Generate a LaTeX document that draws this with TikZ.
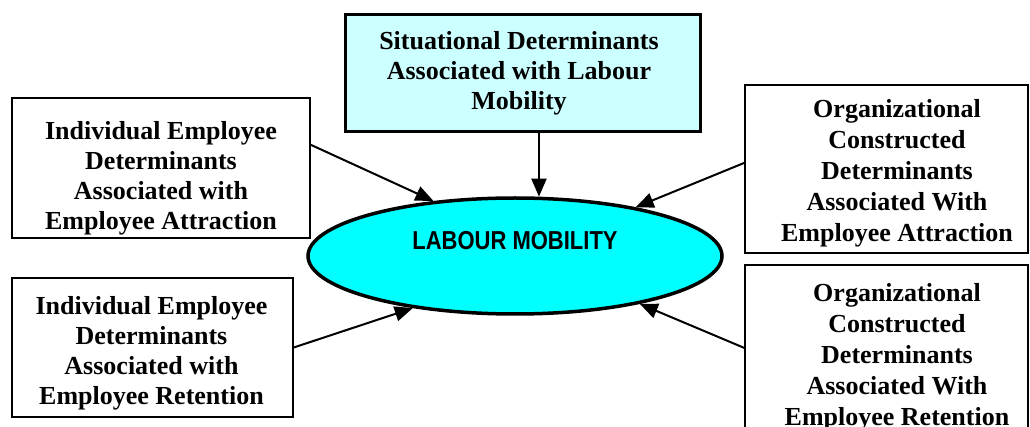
\documentclass[tikz,border=0pt]{standalone}
\usepackage{fontspec}
\setmainfont{Liberation Serif}
\newfontfamily\arialfont{Liberation Sans}
\usetikzlibrary{shapes.geometric,arrows.meta,calc}
\definecolor{lightcyan}{RGB}{204,255,255}
\definecolor{brightcyan}{RGB}{0,255,255}
\begin{document}
\begin{tikzpicture}[x=1pt,y=-1pt,
  box/.style={draw=black,line width=1.5pt,fill=white,inner sep=0pt},
  boxtext/.style={align=center,inner sep=0pt,font=\bfseries\fontsize{26}{30}\selectfont},
  boxtextwide/.style={align=center,inner sep=0pt,font=\bfseries\fontsize{26}{31}\selectfont},
  arr/.style={-{Triangle[length=18pt,width=15pt]},line width=2pt},
]
\useasboundingbox (0,0) rectangle (1030,427);
\fill[white] (0,0) rectangle (1030,427);

% boxes
\node[box, fill=lightcyan, line width=3pt, minimum width=355pt, minimum height=117pt] (sit) at (522.5,73.5) {};
\node[box, minimum width=298pt, minimum height=140pt] (indA) at (161,168) {};
\node[box, minimum width=281pt, minimum height=139pt] (indR) at (152.5,347.5) {};
\node[box, minimum width=283pt, minimum height=168pt] (orgA) at (886.5,169) {};
\node[box, minimum width=283pt, minimum height=175pt] (orgR) at (886.5,352.5) {};

% box texts, clipped to their boxes
\begin{scope}
\clip (sit.north west) rectangle (sit.south east);
\node[boxtext] (sitt) at (519,73) {Situational Determinants\\Associated with Labour\\Mobility};
\end{scope}
\begin{scope}
\clip (indA.north west) rectangle (indA.south east);
\node[boxtext] (indAt) at (161,178) {Individual Employee\\Determinants\\Associated with\\Employee Attraction};
\end{scope}
\begin{scope}
\clip (indR.north west) rectangle (indR.south east);
\node[boxtext] (indRt) at (151.5,353) {Individual Employee\\Determinants\\Associated with\\Employee Retention};
\end{scope}
\begin{scope}
\clip (orgA.north west) rectangle (orgA.south east);
\node[boxtextwide] (orgAt) at (897,173.5) {Organizational\\Constructed\\Determinants\\Associated With\\Employee Attraction};
\end{scope}
\begin{scope}
\clip (orgR.north west) rectangle (orgR.south east);
\node[boxtextwide] (orgRt) at (897,357) {Organizational\\Constructed\\Determinants\\Associated With\\Employee Retention};
\end{scope}

% ellipse
\node[ellipse, draw=black, line width=3.5pt, fill=brightcyan, minimum width=414pt, minimum height=116pt, inner sep=0pt] (lm) at (515,256) {};
\node[inner sep=0pt, font=\arialfont\bfseries\fontsize{22}{26}\selectfont] (lmt) at (515,241) {\scalebox{1}[1.18]{LABOUR MOBILITY}};

% connectors
\draw[arr] ($(indA.north east)!0.336!(indA.south east)$) -- (lm.146);
\draw[arr] (sit.south -| lm.68) -- (lm.68);
\draw[arr] ($(orgA.north west)!0.464!(orgA.south west)$) -- (lm.22);
\draw[arr] (indR.east) -- (lm.207);
\draw[arr] ($(orgR.north west)!0.474!(orgR.south west)$) -- (lm.339);
\end{tikzpicture}
\end{document}
